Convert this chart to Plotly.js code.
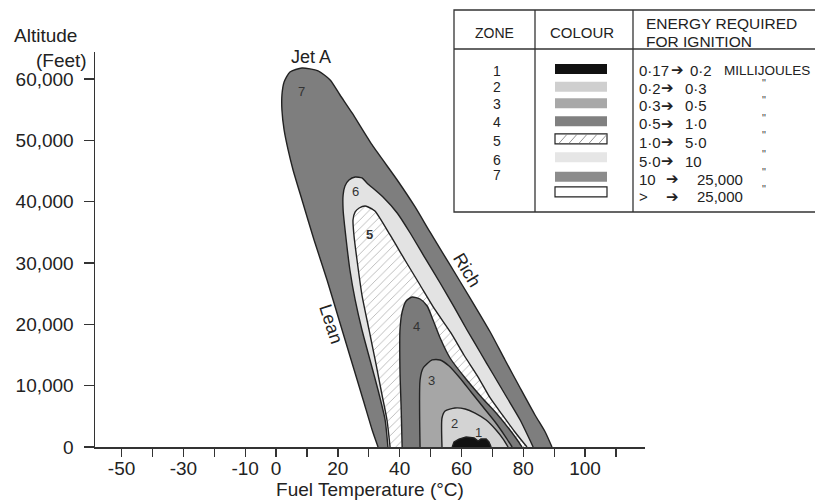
<!DOCTYPE html>
<html><head><meta charset="utf-8">
<script src="https://cdn.plot.ly/plotly-3.0.1.min.js"></script>
<style>html,body{margin:0;padding:0;background:#fff}#chart{width:815px;height:503px}</style>
</head><body><div id="chart"></div>
<script>
// ---- data (°C, feet) ----
const zone7_T   = [33.0,31.1,28.2,24.3,20.4,16.5,12.3,8.4,5.5,3.9,2.6,1.9,1.9,2.6,4.5,8.4,13.6,17.5,20.7,24.6,31.1,39.2,45.0,49.8,56.3,62.8,69.3,74.1,79.0,83.8,87.1,89.3];
const zone7_Alt = [0,2770,7660,14190,20710,27230,33750,40270,45170,48430,51690,54950,57390,59510,61140,61800,61310,59840,57390,54460,49240,43530,39130,35060,29680,24290,18750,14190,9620,5220,2450,0];
const zone6_T   = [36.2,35.3,33.0,30.4,27.8,25.6,23.9,22.7,21.7,21.7,22.3,23.6,25.6,27.8,29.4,34.6,39.2,43.4,48.2,53.1,57.6,61.8,66.0,70.2,74.8,79.0,83.2];
const zone6_Alt = [0,4400,9290,14190,19080,23970,28860,33750,38640,41090,42560,43530,44020,43860,43050,40760,38150,34890,30820,26740,22830,19080,15490,11900,7990,4400,0];
const zone5_T   = [36.9,35.9,34.3,32.4,30.1,27.8,26.2,25.2,24.9,25.6,26.9,28.8,29.8,32.0,36.9,41.7,46.6,51.5,56.6,60.8,65.4,69.3,73.5,77.3,81.2];
const zone5_Alt = [0,4400,8480,13370,19080,24780,30490,34570,37010,38320,38970,39300,39130,38480,34570,30490,26410,22340,18590,15000,11410,7990,5050,2450,0];
const zone4_T   = [40.8,40.5,40.1,40.1,40.8,42.1,44.0,46.6,48.9,50.8,53.1,56.3,61.2,66.7,71.5,75.7,78.3,79.6];
const zone4_Alt = [0,6030,12560,19080,22010,23810,24460,24130,22990,20710,17770,14510,11250,7990,5380,2770,980,0];
const zone3_T   = [46.6,46.6,47.6,50.5,53.1,56.0,59.5,63.1,67.0,70.9,74.1,76.4];
const zone3_Alt = [0,10920,12880,14190,14190,13210,11250,8970,6520,4080,1790,0];
const zone2_T   = [53.7,53.7,54.7,57.9,61.2,64.4,68.0,71.2,73.5,75.1];
const zone2_Alt = [0,4730,5870,6360,6200,5540,4400,2770,1300,0];
const zone1_T   = [57.0,57.6,59.2,61.5,64.1,65.4,66.3,68.0,68.9,69.6];
const zone1_Alt = [0,820,1300,1630,1470,980,1300,1300,820,0];

const zoneLabels     = ['7','6','5','4','3','2','1'];
const zoneLabel_T    = [8.3,25.6,30.2,45.6,50.2,57.9,65.4];
const zoneLabel_Alt  = [57950,41630,34570,19570,10920,3910,2300];

const xTickVals = [-50,-40,-30,-20,-10,0,10,20,30,40,50,60,70,80,90,100,110];
const xTickText = ['-50','','-30','','-10','0','','20','','40','','60','','80','','100',''];
const yTickVals = [0,10000,20000,30000,40000,50000,60000];
const yTickText = ['0','10,000','20,000','30,000','40,000','50,000','60,000'];

const legendZone = ['1','2','3','4','5','6','7'];
const legendFrom = ['0·17','0·2','0·3','0·5','1·0','5·0','10','>'];
const legendTo   = ['0·2','0·3','0·5','1·0','5·0','10','25,000','25,000'];

// ---- styling ----
const FONT = 'Liberation Sans, Arial, Helvetica, sans-serif';
const INK = '#222';
const zones = [
  {T:zone7_T, A:zone7_Alt, fill:'#7e7e7e'},
  {T:zone6_T, A:zone6_Alt, fill:'#e3e3e3'},
  {T:zone5_T, A:zone5_Alt, fill:'#ffffff', pattern:true},
  {T:zone4_T, A:zone4_Alt, fill:'#7a7a7a'},
  {T:zone3_T, A:zone3_Alt, fill:'#a6a6a6'},
  {T:zone2_T, A:zone2_Alt, fill:'#d3d3d3'},
  {T:zone1_T, A:zone1_Alt, fill:'#111111', linear:true}
];
const traces = zones.map(z => {
  const t = {x:z.T, y:z.A, type:'scatter', mode:'lines', fill:'toself', fillcolor:z.fill,
    line:{color:INK, width:1.4, shape: z.linear ? 'linear' : 'spline', smoothing:0.6},
    hoverinfo:'skip'};
  if (z.pattern) t.fillpattern = {shape:'/', bgcolor:'#ffffff', fgcolor:'#b8b8b8', size:6, solidity:0.15};
  return t;
});

// plot area in pixels: left 95, right 645, top 52, bottom 447
const L = 95, R = 645, TOP = 52, BOT = 447;
const px = x => (x - L) / (R - L);
const py = y => (BOT - y) / (BOT - TOP);

const annotations = [];
const shapes = [];
function note(x, y, text, font, xanchor, extra) {
  annotations.push(Object.assign({x:px(x), y:py(y), xref:'paper', yref:'paper', text:text, showarrow:false,
    xanchor:xanchor || 'center', yanchor:'middle', font:font}, extra || {}));
}
zoneLabels.forEach((s,i) => annotations.push({x:zoneLabel_T[i], y:zoneLabel_Alt[i], xref:'x', yref:'y',
  xanchor:'center', yanchor:'middle', text: s==='5' ? '<b>5</b>' : s,
  showarrow:false, font:{family:FONT, size:13, color:'#333'}}));
note(311, 57, 'Jet A', {family:FONT, size:18, color:INK});
note(331, 324, 'Lean', {family:FONT, size:18, color:INK}, 'center', {textangle:72});
note(467, 270, 'Rich', {family:FONT, size:18, color:INK}, 'center', {textangle:59});
note(12, 35, 'Altitude', {family:FONT, size:19, color:INK}, 'left');
note(89, 60, '(Feet)', {family:FONT, size:19, color:INK}, 'right');

// ---- legend table ----
const lineStyle = {color:'#333', width:1.3};
shapes.push({type:'rect', xref:'paper', yref:'paper', x0:px(454), x1:px(840), y0:py(212), y1:py(10), line:lineStyle, fillcolor:'rgba(255,255,255,1)', layer:'above'});
shapes.push({type:'line', xref:'paper', yref:'paper', x0:px(535), x1:px(535), y0:py(212), y1:py(10), line:lineStyle, layer:'above'});
shapes.push({type:'line', xref:'paper', yref:'paper', x0:px(633), x1:px(633), y0:py(212), y1:py(10), line:lineStyle, layer:'above'});
shapes.push({type:'line', xref:'paper', yref:'paper', x0:px(454), x1:px(840), y0:py(49), y1:py(49), line:lineStyle, layer:'above'});
note(494, 33, 'ZONE', {family:FONT, size:14, color:INK});
note(582, 33, 'COLOUR', {family:FONT, size:15, color:INK});
note(644, 23, 'ENERGY REQUIRED', {family:FONT, size:15.5, color:INK}, 'left');
note(644, 41, 'FOR IGNITION', {family:FONT, size:15.5, color:INK}, 'left');

const swatchY = [69, 86.7, 103.3, 121.2, 138.8, 157.2, 176.7, 191.8];
const swatchFill = ['#111111','#cfcfcf','#a8a8a8','#808080','#ffffff','#e6e6e6','#8c8c8c','#ffffff'];
const swatchBorder = [false,false,false,false,true,false,false,true];
swatchY.forEach((cy,i) => {
  shapes.push({type:'rect', xref:'paper', yref:'paper', x0:px(555), x1:px(607), y0:py(cy+5), y1:py(cy-5),
    fillcolor:swatchFill[i], line: swatchBorder[i] ? {color:'#222', width:1.2} : {width:0}, layer:'above'});
});
[563,573,583,593,603].forEach(x0 => shapes.push({type:'line', xref:'paper', yref:'paper', x0:px(x0-4), x1:px(x0+4), y0:py(143.3), y1:py(134.3), line:{color:'#777', width:0.8}, layer:'above'}));

const zoneRowY = [71, 87, 104, 122, 141, 159.5, 175];
legendZone.forEach((s,i) => note(497, zoneRowY[i], s, {family:FONT, size:14, color:INK}));
const rowFont = {family:FONT, size:15, color:INK};
const eRowY = [70, 88, 106, 124, 142, 161, 179, 197];
const arrowFont = {family:'DejaVu Sans, sans-serif', size:15, color:INK};
eRowY.forEach((cy,i) => {
  note(637, cy, legendFrom[i], rowFont, 'left');
  const ax = i===0 ? 677 : (i>=6 ? 672 : 667);
  note(ax, cy, '➔', arrowFont);
  const tx = i===0 ? 688 : (i>=6 ? 695 : 683);
  note(tx, cy, legendTo[i], rowFont, 'left');
});
note(722, 70, 'MILLIJOULES', {family:FONT, size:13.5, color:INK}, 'left');
[83, 100, 118, 135, 154, 172, 189].forEach(cy => note(764, cy, '"', {family:FONT, size:11, color:'#444'}));

const layout = {
  width:815, height:503,
  margin:{l:L, r:815-R, t:TOP, b:503-BOT, pad:0},
  paper_bgcolor:'#ffffff', plot_bgcolor:'#ffffff',
  showlegend:false,
  font:{family:FONT, color:INK, size:19},
  xaxis:{range:[-58.6,119.4], tickmode:'array', tickvals:xTickVals, ticktext:xTickText,
    ticks:'outside', ticklen:8, tickwidth:1.3, tickcolor:'#333', ticklabelstandoff:-4,
    showline:true, linecolor:'#333', linewidth:1.5, showgrid:false, zeroline:false,
    tickfont:{family:FONT, size:19, color:INK},
    title:{text:'Fuel Temperature (°C)', font:{family:FONT, size:19, color:INK}, standoff:4}},
  yaxis:{range:[0,64400], tickmode:'array', tickvals:yTickVals, ticktext:yTickText,
    ticks:'outside', ticklen:10, tickwidth:1.3, tickcolor:'#333', ticklabelstandoff:6,
    showline:true, linecolor:'#333', linewidth:1.5, showgrid:false, zeroline:false,
    tickfont:{family:FONT, size:19, color:INK}},
  annotations, shapes
};
Plotly.newPlot('chart', traces, layout, {displayModeBar:false, staticPlot:true});
</script></body></html>
